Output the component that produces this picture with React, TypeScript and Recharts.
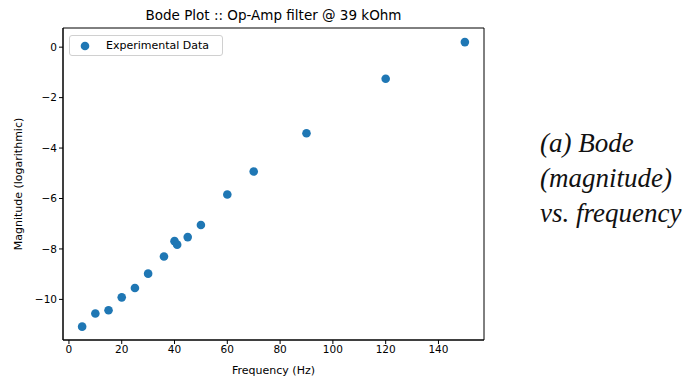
import { ScatterChart, Scatter, XAxis, YAxis, ReferenceArea } from 'recharts';

// Frequencia (Hz) y magnitud medida
const frequency = [5, 10, 15, 20, 25, 30, 36, 40, 41, 45, 50, 60, 70, 90, 120, 150];
const magnitude = [-11.08, -10.56, -10.43, -9.92, -9.55, -8.98, -8.3, -7.69, -7.83, -7.53, -7.05, -5.84, -4.93, -3.41, -1.25, 0.2];
const xTicks = [0, 20, 40, 60, 80, 100, 120, 140];
const yTicks = [0, -2, -4, -6, -8, -10];

const X_DOMAIN: [number, number] = [-2.25, 157.25];
const Y_DOMAIN: [number, number] = [-11.61, 0.76];

const data = frequency.map((f, i) => ({ f, m: magnitude[i] }));

const font = 'DejaVu Sans, sans-serif';
const blue = '#1f77b4';

function LegendBox() {
  return (
    <div
      style={{
        position: 'absolute',
        left: 69,
        top: 35,
        display: 'flex',
        alignItems: 'center',
        width: 154,
        height: 21,
        border: '1px solid #d0d0d0',
        borderRadius: 3,
        background: '#fff',
        fontFamily: font,
        fontSize: 11,
        color: '#000',
        boxSizing: 'border-box',
      }}
    >
      <svg width={32} height={18}>
        <circle cx={15} cy={9} r={4.3} fill={blue} />
      </svg>
      <span style={{ marginLeft: 4 }}>Experimental Data</span>
    </div>
  );
}

export default function App() {
  return (
    <div style={{ position: 'absolute', left: 0, top: 0, width: 690, height: 379, background: '#fff' }}>
      <div
        style={{
          position: 'absolute',
          left: 63,
          width: 421,
          top: 7,
          textAlign: 'center',
          fontFamily: font,
          fontSize: 13.5,
          color: '#000',
        }}
      >
        Bode Plot :: Op-Amp filter @ 39 kOhm
      </div>
      <ScatterChart width={690} height={379} margin={{ top: 28, right: 206, bottom: 0, left: 0 }}>
        <XAxis
          type="number"
          dataKey="f"
          domain={X_DOMAIN}
          ticks={xTicks}
          allowDataOverflow
          height={39}
          stroke="#000"
          tickSize={4}
          tick={{ fill: '#000', fontSize: 10.5, fontFamily: font }}
          label={{ value: 'Frequency (Hz)', position: 'insideBottom', offset: 5, fill: '#000', fontSize: 11, fontFamily: font }}
        />
        <YAxis
          type="number"
          dataKey="m"
          domain={Y_DOMAIN}
          ticks={yTicks}
          allowDataOverflow
          width={63}
          stroke="#000"
          tickSize={4}
          tickFormatter={(v: number) => String(v).replace('-', '\u2212')}
          tick={{ fill: '#000', fontSize: 10.5, fontFamily: font }}
          label={{
            value: 'Magnitude (logarithmic)',
            angle: -90,
            position: 'insideLeft',
            offset: 18,
            style: { textAnchor: 'middle' },
            fill: '#000',
            fontSize: 11,
            fontFamily: font,
          }}
        />
        <ReferenceArea
          x1={X_DOMAIN[0]}
          x2={X_DOMAIN[1]}
          y1={Y_DOMAIN[0]}
          y2={Y_DOMAIN[1]}
          fill="none"
          stroke="#000"
          strokeWidth={1}
          ifOverflow="visible"
        />
        <Scatter
          name="Experimental Data"
          data={data}
          fill={blue}
          isAnimationActive={false}
          shape={(p: any) => <circle cx={p.cx} cy={p.cy} r={4.3} fill={blue} />}
        />
      </ScatterChart>
      <LegendBox />
      <div
        style={{
          position: 'absolute',
          left: 540,
          top: 126,
          fontFamily: 'Liberation Serif, serif',
          fontStyle: 'italic',
          fontSize: 27,
          lineHeight: '35px',
          color: '#111',
        }}
      >
        (a) Bode
        <br />
        (magnitude)
        <br />
        vs. frequency
      </div>
    </div>
  );
}
